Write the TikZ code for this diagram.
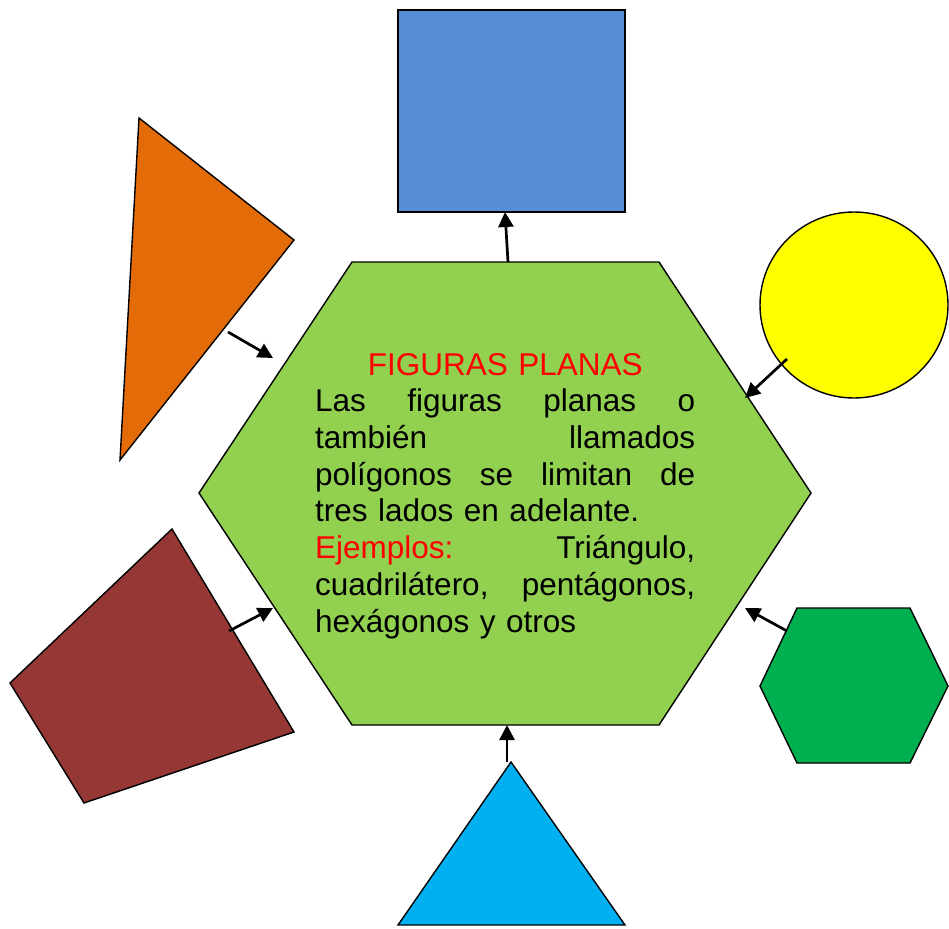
\documentclass[tikz,border=0pt]{standalone}
\usepackage{fontspec}
\setmainfont{Liberation Sans}
\usetikzlibrary{arrows.meta}
\definecolor{hexgreen}{HTML}{92D050}
\definecolor{sqblue}{HTML}{558ED5}
\definecolor{triorange}{HTML}{E36C09}
\definecolor{circyellow}{HTML}{FFFF00}
\definecolor{quadbrown}{HTML}{953735}
\definecolor{smallgreen}{HTML}{00B050}
\definecolor{tricyan}{HTML}{00B0F0}
\definecolor{titlered}{HTML}{FF0000}
\newcommand{\jline}[1]{\leavevmode\hbox to 380pt{#1}}
\begin{document}
\begin{tikzpicture}[x=1pt,y=-1pt,
  figshape/.style={draw=black,line width=1.4pt,line join=miter},
  conn/.style={line width=2.7pt,-{Triangle[length=15pt,width=15pt]}}]
\useasboundingbox (0,0) rectangle (949,928);
\fill[white] (0,0) rectangle (949,928);
% central hexagon
\draw[figshape,fill=hexgreen] (352,262) -- (659,262) -- (811,493) -- (659,725) -- (352,725) -- (199,493) -- cycle;
% blue square
\draw[figshape,fill=sqblue] (398,10) rectangle (625,212);
% orange triangle
\draw[figshape,fill=triorange] (139,118) -- (294,240) -- (120,460) -- cycle;
% yellow circle
\draw[figshape,fill=circyellow] (854,305) ellipse [x radius=94, y radius=93];
% brown quadrilateral
\draw[figshape,fill=quadbrown] (172,529) -- (294,732) -- (84,803) -- (10,683) -- cycle;
% small green hexagon
\draw[figshape,fill=smallgreen] (797,608) -- (910,608) -- (948,686) -- (910,763) -- (797,763) -- (760,686) -- cycle;
% cyan triangle
\draw[figshape,fill=tricyan] (511,762) -- (625,925) -- (398,925) -- cycle;
% arrow end points
\coordinate (sqs) at (508,262); \coordinate (sqe) at (505,212);
\coordinate (ors) at (228,332); \coordinate (ore) at (273,358);
\coordinate (yes) at (787,359); \coordinate (yee) at (745,398);
\coordinate (brs) at (229,631); \coordinate (bre) at (273,608);
\coordinate (grs) at (787,631); \coordinate (gre) at (745,608);
\coordinate (cys) at (507,762); \coordinate (cye) at (507,725);
\draw[conn] (sqs) -- (sqe);
\draw[conn] (ors) -- (ore);
\draw[conn] (yes) -- (yee);
\draw[conn] (brs) -- (bre);
\draw[conn] (grs) -- (gre);
\draw[conn] (cys) -- (cye);
% text
\node[anchor=north west, inner sep=0pt, text width=380pt, align=left,
      font=\fontsize{31.5}{36.7}\selectfont] (txt) at (315,353)
{\jline{\hfil\textcolor{titlered}{FIGURAS PLANAS}\hfil}\\
\jline{Las\hfill figuras\hfill planas\hfill o}\\
\jline{también\hfill llamados}\\
\jline{polígonos\hfill se\hfill limitan\hfill de}\\
tres lados en adelante.\\
\jline{\textcolor{titlered}{Ejemplos:}\hfill Triángulo,}\\
\jline{cuadrilátero,\hfill pentágonos,}\\
hexágonos y otros};
\end{tikzpicture}
\end{document}
